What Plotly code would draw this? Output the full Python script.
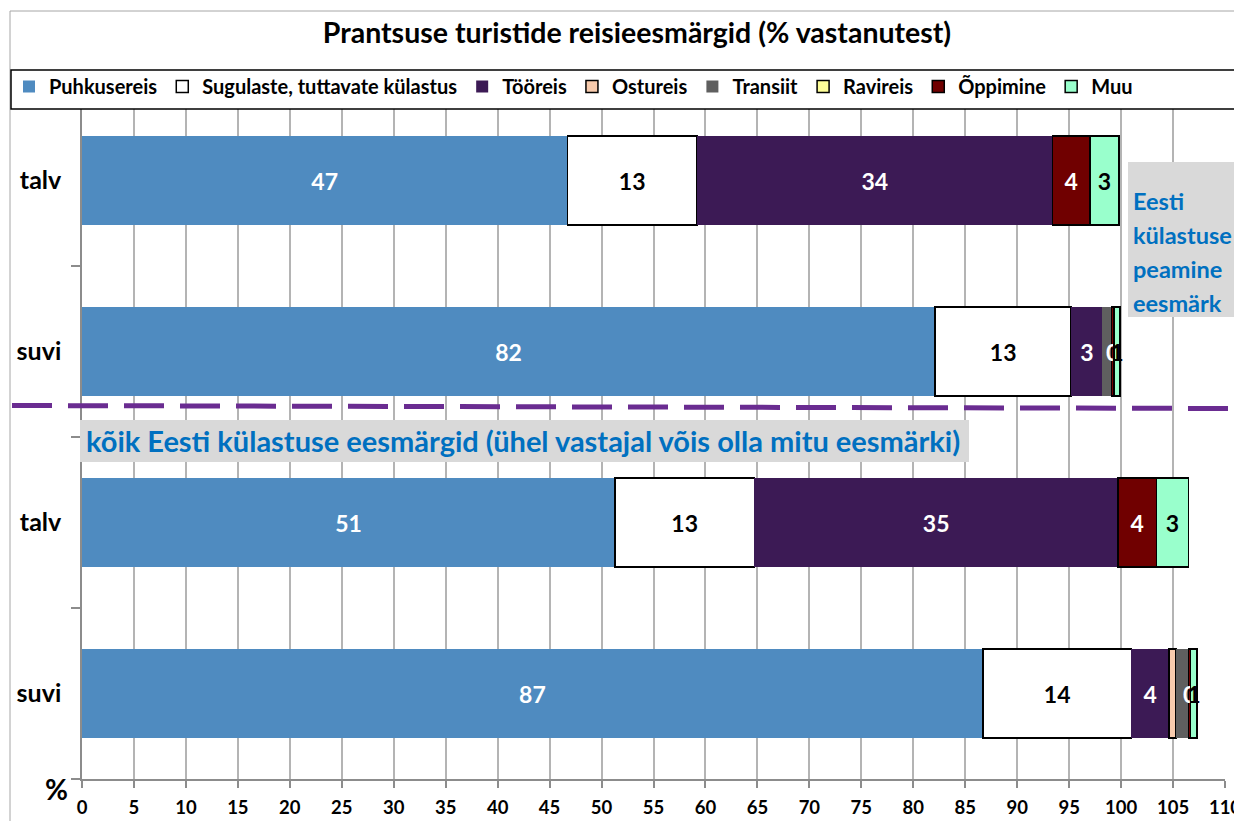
import plotly.graph_objects as go

# rows top to bottom: main purpose (talv, suvi), all purposes (talv, suvi)
rows = ["talv", "suvi", "talv", "suvi"]
row_pos = [3, 2, 1, 0]

series_names = ["Puhkusereis", "Sugulaste, tuttavate külastus", "Tööreis", "Ostureis",
                "Transiit", "Ravireis", "Õppimine", "Muu"]
puhkusereis = [46.7, 82.1, 51.3, 86.7]
sugulaste = [12.5, 13.1, 13.4, 14.3]
tooreis = [34.2, 3.0, 35.0, 3.6]
ostureis = [0.0, 0.0, 0.0, 0.7]
transiit = [0.0, 0.9, 0.0, 1.2]
ravireis = [0.0, 0.0, 0.0, 0.0]
oppimine = [3.6, 0.2, 3.7, 0.2]
muu = [2.8, 0.6, 3.1, 0.6]
x_ticks = list(range(0, 111, 5))

values = [puhkusereis, sugulaste, tooreis, ostureis, transiit, ravireis, oppimine, muu]
fills = ["#4F8BC0", "#FFFFFF", "#3C1A55", "#F8CBAD", "#5F5F5F", "#FFFF99", "#700000", "#99FFCC"]
outlines = [0, 1.5, 0, 1.5, 0, 1.5, 1.5, 1.5]
label_colors = ["white", "black", "white", None, None, None, "white", "black"]

FONT = "Lato"
O = 8  # page offset of the plot div
W, H = 1242 - O, 821 - O
# plot area in window pixels: x 82..1225, y 95..779
ML, MR, MT, MB = 82 - O, 17, 95 - O, 42
PW, PH = W - ML - MR, H - MT - MB

# window pixel -> paper fraction
px = lambda x: (x - O - ML) / PW
py = lambda y: (H - MB - (y - O)) / PH

fig = go.Figure()
for name, vals, col, lw, lc in zip(series_names, values, fills, outlines, label_colors):
    fig.add_trace(go.Bar(
        y=row_pos, x=vals, name=name, orientation="h", width=0.52,
        marker=dict(color=col, line=dict(color="black", width=lw)),
        texttemplate="%{x:.0f}" if lc else None,
        textposition="inside" if lc else "none",
        insidetextanchor="middle", textangle=0, constraintext="none",
        insidetextfont=dict(family=FONT, size=23, color=lc or "black", weight="bold"),
        hoverinfo="x+name",
    ))

shapes = [
    # outer frame
    dict(type="rect", xref="paper", yref="paper", x0=px(10), x1=px(1262), y0=py(840), y1=py(11),
         line=dict(color="#A6A6A6", width=1), layer="below"),
    # legend box
    dict(type="rect", xref="paper", yref="paper", x0=px(11), x1=px(1262), y0=py(109), y1=py(70),
         line=dict(color="black", width=1.5), fillcolor="white", layer="above"),
    # side note box
    dict(type="rect", xref="paper", yref="paper", x0=px(1128), x1=px(1262), y0=py(317), y1=py(162),
         line=dict(width=0), fillcolor="#D9D9D9", layer="above"),
    # all-purposes label box
    dict(type="rect", xref="paper", yref="paper", x0=px(80), x1=px(969), y0=py(462), y1=py(420),
         line=dict(width=0), fillcolor="#D9D9D9", layer="above"),
    # separator
    dict(type="line", xref="paper", yref="paper", x0=px(12), x1=px(1232), y0=py(405.5), y1=py(408.5),
         line=dict(color="#6A2C91", width=5, dash="40px,16px"), layer="above"),
]

annotations = [
    dict(text="%", xref="paper", yref="paper", x=px(43), y=py(808), showarrow=False,
         font=dict(family=FONT, size=28, color="black", weight="bold")),
    dict(text="kõik Eesti külastuse eesmärgid (ühel vastajal võis olla mitu eesmärki)",
         xref="paper", yref="paper", x=px(84), y=py(441), xanchor="left", showarrow=False,
         font=dict(family=FONT, size=29, color="#0070C0", weight="bold")),
]
for i, line in enumerate(["Eesti", "külastuse", "peamine", "eesmärk"]):
    annotations.append(dict(text=line, xref="paper", yref="paper", x=px(1131), y=py(185 + 34 * i),
                            xanchor="left", showarrow=False,
                            font=dict(family=FONT, size=23.5, color="#0070C0", weight="bold")))

fig.update_layout(
    width=W, height=H, barmode="stack", bargap=0.48,
    margin=dict(l=ML, r=MR, t=MT, b=MB, autoexpand=False),
    paper_bgcolor="white", plot_bgcolor="white",
    font=dict(family=FONT, color="black"),
    title=dict(text="Prantsuse turistide reisieesmärgid (% vastanutest)", x=(637 - O) / W,
               xref="container", y=1 - 25 / H, yref="container", xanchor="center", yanchor="middle",
               font=dict(family=FONT, size=28.5, color="black", weight="bold")),
    legend=dict(orientation="h", xref="container", yref="container", x=1 / W, y=1 - 59 / H,
                xanchor="left", yanchor="top", bgcolor="rgba(0,0,0,0)", borderwidth=0,
                font=dict(family=FONT, size=20, color="black", weight="bold"),
                traceorder="normal", itemclick=False),
    xaxis=dict(range=[0, 110], tickvals=x_ticks, showgrid=True, gridcolor="#B4B4B4", gridwidth=1.5,
               zeroline=False, showline=True, linecolor="#8C8C8C", linewidth=1.5, automargin=False,
               ticks="outside", ticklen=7, tickcolor="#8C8C8C", tickwidth=1.5,
               ticklabelstandoff=4, ticklabeloverflow="allow",
               tickfont=dict(family=FONT, size=18.5, color="black", weight="bold")),
    yaxis=dict(range=[-0.5, 3.5], tickvals=row_pos, ticktext=rows, showgrid=False, zeroline=False,
               showline=True, linecolor="#8C8C8C", linewidth=1.5, ticks="", ticklabelstandoff=14,
               automargin=False,
               tickfont=dict(family=FONT, size=25, color="black", weight="bold"),
               minor=dict(tickmode="array", tickvals=[-0.5, 0.5, 1.5, 2.5, 3.5], ticks="outside",
                          ticklen=9, tickcolor="#8C8C8C", tickwidth=1.5, showgrid=False)),
    shapes=shapes, annotations=annotations,
)

fig.write_html("out.html")
